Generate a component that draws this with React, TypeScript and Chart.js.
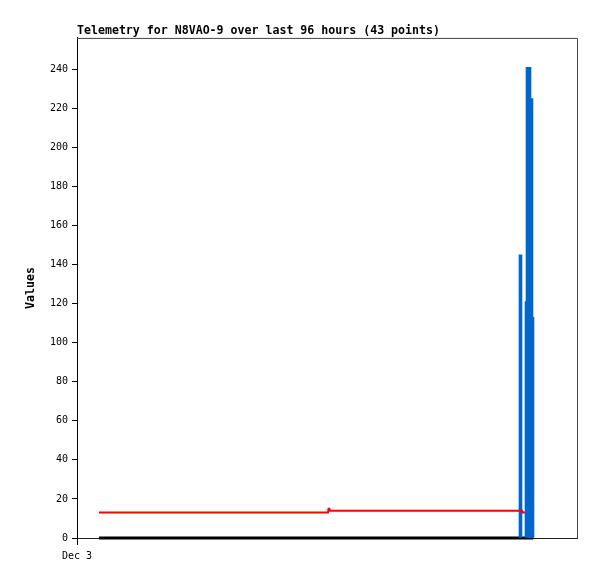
import React, { useEffect, useRef } from 'react';
import { Chart, registerables } from 'chart.js';

Chart.register(...registerables);

const TITLE = 'Telemetry for N8VAO-9 over last 96 hours (43 points)';
const Y_LABEL = 'Values';
const X_TICK_LABEL = 'Dec 3';
const Y_TICKS = [0, 20, 40, 60, 80, 100, 120, 140, 160, 180, 200, 220, 240];
const Y_MAX = 256;
const X_MAX = 96;

// x values are hours since Dec 3 00:00
const redHours = [4.22, 48.19, 48.3, 48.45, 48.58, 85.44, 85.5, 86.02];
const redValues = [13, 13, 15, 15, 14, 14, 13, 13];
const blackHours = [4.22, 87.6];
const blackValues = [0, 0];
const barHours = [85.15, 86.5, 86.69, 87.07, 87.26];
const barValues = [145, 121, 241, 225, 113];
const barWidths = [3, 5, 5, 5, 5];

const MONO = '"DejaVu Sans Mono", "Liberation Mono", monospace';

const framePlugin = {
  id: 'frame',
  afterDraw(chart: any) {
    const { ctx, chartArea } = chart;
    ctx.save();
    ctx.strokeStyle = '#444444';
    ctx.lineWidth = 1;
    ctx.beginPath();
    ctx.moveTo(chartArea.left, chartArea.top + 0.5);
    ctx.lineTo(chartArea.right + 0.5, chartArea.top + 0.5);
    ctx.lineTo(chartArea.right + 0.5, chartArea.bottom);
    ctx.stroke();
    ctx.restore();
  },
};

export default function App() {
  const ref = useRef<HTMLCanvasElement | null>(null);

  useEffect(() => {
    if (!ref.current) return;
    const barSets = barHours.map((h, i) => ({
      type: 'bar' as const,
      data: [{ x: h, y: barValues[i] }],
      backgroundColor: '#0066cc',
      borderWidth: 0,
      barThickness: barWidths[i],
      grouped: false,
      order: 1,
    }));
    const chart = new Chart(ref.current, {
      type: 'bar',
      data: {
        datasets: [
          ...barSets,
          {
            type: 'line' as const,
            data: redHours.map((h, i) => ({ x: h, y: redValues[i] })),
            borderColor: '#ff0000',
            borderWidth: 2,
            pointRadius: 0,
            tension: 0,
            order: 0,
          },
          {
            type: 'line' as const,
            data: blackHours.map((h, i) => ({ x: h, y: blackValues[i] })),
            borderColor: '#000000',
            borderWidth: 3,
            pointRadius: 0,
            tension: 0,
            clip: false,
            order: 2,
          },
        ] as any,
      },
      options: {
        animation: false,
        responsive: false,
        layout: { padding: { left: 0, right: 20, top: 24, bottom: 0 } },
        plugins: {
          legend: { display: false },
          tooltip: { enabled: false },
          title: {
            display: true,
            text: TITLE,
            align: 'start',
            fullSize: false,
            color: '#000',
            font: { family: MONO, size: 11.6, weight: 'bold', lineHeight: 1.2 },
            padding: { top: 0, bottom: 0 },
          },
        },
        scales: {
          x: {
            type: 'linear',
            min: 0,
            max: X_MAX,
            offset: false,
            afterFit: (s: any) => { s.height = 41; },
            afterBuildTicks: (s: any) => { s.ticks = [{ value: 0 }]; },
            ticks: {
              color: '#000',
              font: { family: MONO, size: 10 },
              padding: 5,
              maxRotation: 0,
              callback: () => X_TICK_LABEL,
            },
            grid: { drawOnChartArea: false, color: '#000', tickLength: 7, offset: false },
            border: { color: '#222', width: 1 },
          },
          y: {
            type: 'linear',
            min: 0,
            max: Y_MAX,
            afterFit: (s: any) => { s.width = 77; },
            afterBuildTicks: (s: any) => { s.ticks = Y_TICKS.map((v) => ({ value: v })); },
            ticks: {
              color: '#000',
              font: { family: MONO, size: 10 },
              padding: 4,
            },
            grid: { drawOnChartArea: false, color: '#000', tickLength: 5 },
            border: { color: '#000', width: 1 },
            title: {
              display: true,
              text: Y_LABEL,
              color: '#000',
              font: { family: MONO, size: 11.6, weight: 'bold', lineHeight: 1.2 },
              padding: { top: 24, bottom: 0 },
            },
          },
        },
      },
      plugins: [framePlugin],
    });
    return () => chart.destroy();
  }, []);

  return (
    <div style={{ position: 'fixed', left: 0, top: 0, width: 597, height: 579, background: '#fff' }}>
      <canvas ref={ref} width={597} height={579} style={{ width: 597, height: 579, display: 'block' }} />
    </div>
  );
}
